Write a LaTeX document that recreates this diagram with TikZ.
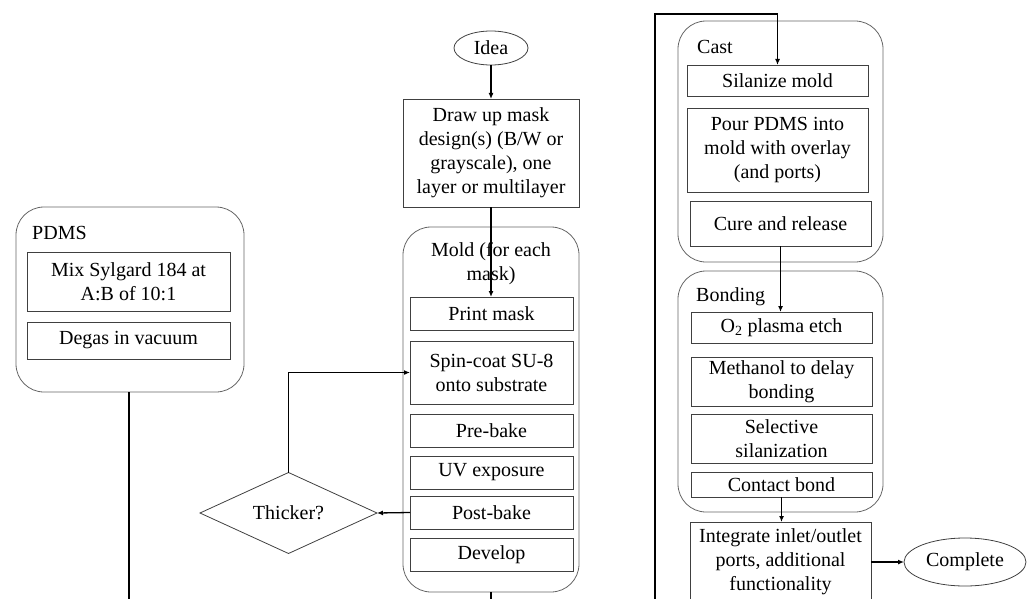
\documentclass[tikz,border=0pt]{standalone}
\usepackage{fontspec}
\setmainfont{Liberation Serif}
\usepackage{tikz}
\usetikzlibrary{shapes.geometric, positioning, calc, arrows.meta}

\tikzset{
    stepbox/.style={draw=black!75, line width=0.8pt, rectangle, inner sep=0pt, outer sep=0pt, align=center, minimum width=181pt},
    groupbox/.style={draw=black!60, line width=0.8pt, rounded corners=28pt, inner sep=0pt, outer sep=0pt, minimum width=205pt},
    grouplabel/.style={inner sep=0pt, anchor=west},
    terminal/.style={draw=black!75, line width=0.8pt, ellipse, inner sep=0pt, outer sep=0pt},
    decision/.style={draw=black!75, line width=0.8pt, diamond, aspect=2.2, inner sep=0pt, outer sep=0pt},
    flow/.style={draw=black, line width=1.3pt, -{Latex[length=6pt,width=5pt]}},
    plainline/.style={draw=black, line width=1.3pt}
}

\begin{document}
\begin{tikzpicture}[x=1pt, y=-1pt, font=\fontsize{20}{24}\selectfont]

    \useasboundingbox (0,0) rectangle (1027,599);

    % PDMS group
    \node[groupbox, minimum width=228pt, minimum height=185pt] (pdms) at (130,299.5) {};
    \node[grouplabel] (pdmslbl) at (32,233) {PDMS};
    \node[stepbox, minimum width=203pt, minimum height=59pt] (mix) at (128.5,281.5) {Mix Sylgard 184 at\\A:B of 10:1};
    \node[stepbox, minimum width=203pt, minimum height=37pt] (degas) at (128.5,340.5) {Degas in vacuum};

    % Idea and mask design
    \node[terminal, minimum width=74pt, minimum height=34pt] (idea) at (491,48) {Idea};
    \node[stepbox, minimum width=176pt, minimum height=108pt] (design) at (491,153)
        {Draw up mask\\design(s) (B/W or\\grayscale), one\\layer or multilayer};

    % Mold group
    \node[groupbox, minimum width=176pt, minimum height=365pt] (mold) at (491,409.5) {};
    \node[inner sep=0pt, align=center] (moldlbl) at (491,264) {Mold (for each\\mask)};
    \node[stepbox, minimum width=163pt, minimum height=33pt] (print) at (491.5,313.5) {Print mask};
    \node[stepbox, minimum width=163pt, minimum height=63pt] (spin) at (491.5,372.5) {Spin-coat SU-8\\onto substrate};
    \node[stepbox, minimum width=163pt, minimum height=33pt] (prebake) at (491.5,430.5) {Pre-bake};
    \node[stepbox, minimum width=163pt, minimum height=33pt] (uv) at (491.5,472.5) {UV exposure};
    \node[stepbox, minimum width=163pt, minimum height=33pt] (postbake) at (491.5,512.5) {Post-bake};
    \node[stepbox, minimum width=163pt, minimum height=33pt] (develop) at (491.5,554.5) {Develop};

    % Thickness check
    \node[decision, minimum width=177pt, minimum height=81pt] (thicker) at (288.5,513) {Thicker?};

    % Cast group
    \node[groupbox, minimum height=241pt] (cast) at (780.5,141.5) {};
    \node[grouplabel] (castlbl) at (697,47) {Cast};
    \node[stepbox, minimum height=31pt] (silanize) at (777.5,80.5) {Silanize mold};
    \node[stepbox, minimum height=84pt] (pour) at (777.5,150) {Pour PDMS into\\mold with overlay\\(and ports)};
    \node[stepbox, minimum height=45pt] (cure) at (780.5,223.5) {Cure and release};

    % Bonding group
    \node[groupbox, minimum height=241pt] (bonding) at (780.5,391.5) {};
    \node[grouplabel] (bondinglbl) at (696,297) {Bonding};
    \node[stepbox, minimum height=31pt] (plasma) at (781.5,327.5) {O\textsubscript{2} plasma etch};
    \node[stepbox, minimum height=49pt] (methanol) at (781.5,381.5) {Methanol to delay\\bonding};
    \node[stepbox, minimum height=49pt] (selective) at (781.5,438.5) {Selective\\silanization};
    \node[stepbox, minimum height=25pt] (contact) at (781.5,484.5) {Contact bond};

    % Finish
    \node[stepbox, minimum height=80pt] (integrate) at (780.5,562)
        {Integrate inlet/outlet\\ports, additional\\functionality};
    \node[terminal, minimum width=122pt, minimum height=48pt] (complete) at (965,562) {Complete};

    % Loose ends at the bottom edge
    \coordinate (pdmsend) at (129,599);
    \coordinate (moldend) at (491,599);
    \coordinate (loopstart) at (655,599);
    \coordinate (looptop) at (655,14);

    % Connectors
    \draw[flow] (idea) -- (design);
    \draw[flow] (design.south) -- (design.south |- print.north);
    \draw[flow] (postbake.west) -- (thicker.east);
    \draw[flow] (thicker.north) |- (spin.west);
    \draw[plainline] (pdms.south -| pdmsend) -- (pdmsend);
    \draw[plainline] (mold.south) -- (moldend);
    \draw[flow] (loopstart) -- (looptop) -| (silanize.north);
    \draw[flow] (cure.south) -- (cure.south |- plasma.north);
    \draw[flow] (contact.south) -- (contact.south |- integrate.north);
    \draw[flow] (integrate.east) -- (complete.west);

\end{tikzpicture}
\end{document}
